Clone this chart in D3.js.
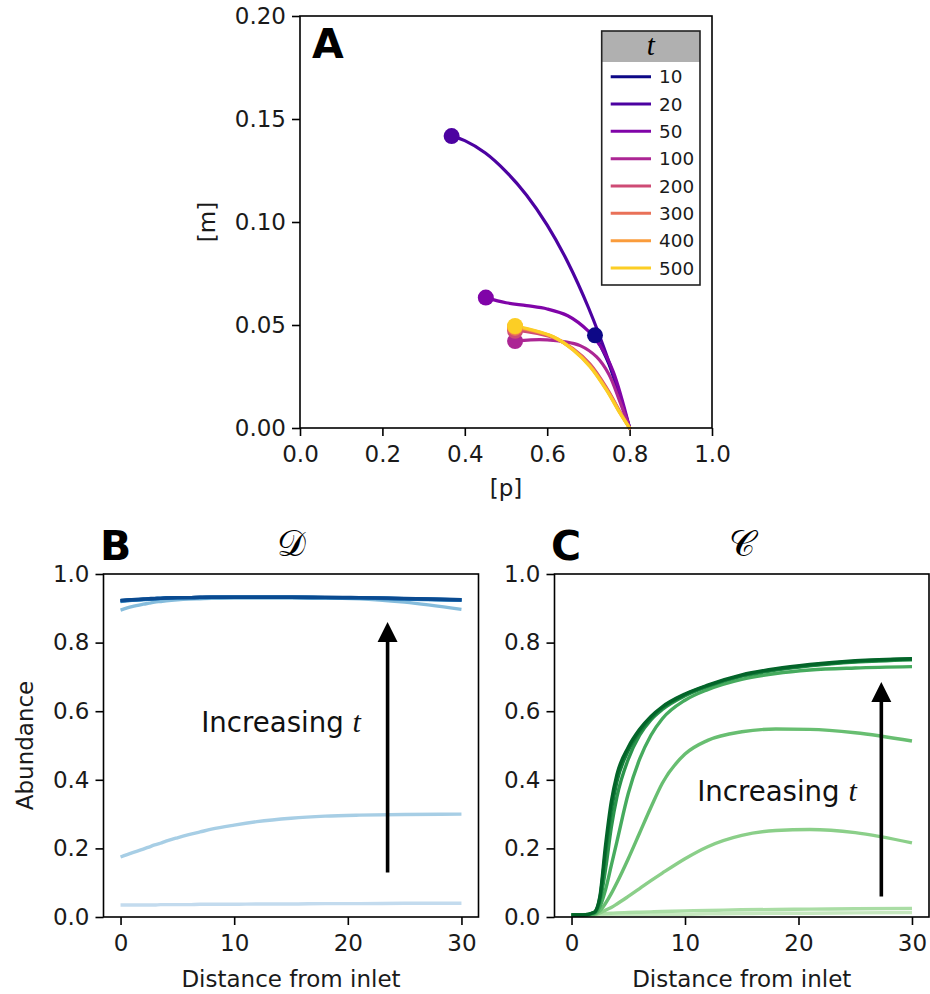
<!DOCTYPE html>
<html><head><meta charset="utf-8">
<script src="https://cdn.jsdelivr.net/npm/d3@7"></script>
<style>
html,body{margin:0;padding:0;background:#fff;}
svg{display:block;font-family:"DejaVu Sans",sans-serif;}
</style></head><body>
<svg id="fig" width="930" height="994"></svg>
<script>
// time points shown in every panel
const times = [10, 20, 50, 100, 200, 300, 400, 500];

// panel A: trajectories in the (p, m) plane, [p, m] pairs starting at p = 0.8
const trajA10  = [[0.8,0],[0.785,0.0095],[0.768,0.0205],[0.75,0.031],[0.733,0.0385],[0.716,0.045]];
const trajA20  = [[0.8,0],[0.75,0.032],[0.70,0.0585],[0.65,0.0805],[0.60,0.0985],[0.55,0.113],[0.50,0.1245],[0.45,0.1335],[0.40,0.1395],[0.368,0.1417]];
const trajA50  = [[0.8,0],[0.76,0.0275],[0.73,0.0395],[0.70,0.047],[0.65,0.0545],[0.60,0.0578],[0.55,0.0594],[0.50,0.0608],[0.451,0.0633]];
const trajA100 = [[0.8,0],[0.775,0.0135],[0.75,0.026],[0.72,0.0345],[0.68,0.040],[0.64,0.042],[0.60,0.0428],[0.56,0.0428],[0.522,0.0422]];
const trajA200 = [[0.8,0],[0.777,0.0078],[0.744,0.0195],[0.704,0.031],[0.663,0.0385],[0.615,0.0438],[0.558,0.0465],[0.522,0.0472]];
const trajA300 = [[0.8,0],[0.777,0.0075],[0.744,0.019],[0.704,0.0304],[0.663,0.0382],[0.615,0.0441],[0.558,0.0474],[0.522,0.0486]];
const trajA400 = [[0.8,0],[0.777,0.0073],[0.744,0.0186],[0.704,0.030],[0.663,0.038],[0.615,0.0442],[0.558,0.0477],[0.522,0.0492]];
const trajA500 = [[0.8,0],[0.777,0.0071],[0.744,0.0184],[0.704,0.0298],[0.663,0.0379],[0.615,0.0443],[0.558,0.0479],[0.522,0.0495]];
const trajA = [trajA10, trajA20, trajA50, trajA100, trajA200, trajA300, trajA400, trajA500];

// panels B and C: abundance along the channel
const distance = [0, 1, 2, 2.5, 3, 3.5, 4, 5, 6, 7, 8, 10, 12, 15, 18, 21, 25, 30];

const dT10  = [0.035,0.035,0.035,0.035,0.035,0.036,0.036,0.036,0.036,0.037,0.037,0.037,0.038,0.038,0.039,0.039,0.040,0.040];
const dT20  = [0.175,0.187,0.198,0.204,0.210,0.215,0.221,0.231,0.240,0.248,0.256,0.268,0.278,0.288,0.294,0.297,0.299,0.300];
const dT50  = [0.895,0.905,0.912,0.915,0.918,0.920,0.922,0.925,0.927,0.928,0.929,0.930,0.930,0.930,0.930,0.928,0.918,0.897];
const dT100 = [0.920,0.923,0.925,0.926,0.927,0.928,0.929,0.930,0.931,0.931,0.931,0.932,0.932,0.932,0.931,0.930,0.927,0.923];
const dT200 = [0.921,0.924,0.926,0.927,0.928,0.929,0.929,0.930,0.931,0.931,0.932,0.932,0.932,0.932,0.931,0.930,0.928,0.924];
const dT300 = [0.922,0.924,0.926,0.927,0.928,0.929,0.930,0.931,0.931,0.931,0.932,0.932,0.932,0.932,0.931,0.930,0.928,0.924];
const dT400 = [0.922,0.925,0.926,0.927,0.928,0.929,0.930,0.931,0.931,0.932,0.932,0.932,0.932,0.932,0.931,0.931,0.928,0.925];
const dT500 = [0.923,0.925,0.927,0.928,0.929,0.929,0.930,0.931,0.931,0.932,0.932,0.932,0.932,0.932,0.932,0.931,0.929,0.925];
const seriesD = [dT10, dT20, dT50, dT100, dT200, dT300, dT400, dT500];

const cT10  = [0.005,0.005,0.006,0.006,0.006,0.006,0.007,0.007,0.007,0.008,0.008,0.008,0.009,0.010,0.011,0.011,0.012,0.013];
const cT20  = [0.007,0.007,0.008,0.009,0.010,0.011,0.012,0.013,0.014,0.015,0.016,0.018,0.019,0.021,0.022,0.023,0.024,0.025];
const cT50  = [0.005,0.005,0.007,0.012,0.020,0.028,0.038,0.060,0.083,0.106,0.128,0.170,0.205,0.238,0.252,0.255,0.246,0.216];
const cT100 = [0.005,0.005,0.008,0.018,0.040,0.068,0.100,0.170,0.245,0.320,0.390,0.475,0.515,0.540,0.548,0.547,0.537,0.513];
const cT200 = [0.006,0.006,0.010,0.030,0.080,0.150,0.220,0.360,0.460,0.530,0.578,0.632,0.663,0.693,0.710,0.720,0.726,0.730];
const cT300 = [0.006,0.006,0.012,0.045,0.140,0.260,0.350,0.460,0.530,0.575,0.605,0.645,0.672,0.702,0.720,0.732,0.743,0.750];
const cT400 = [0.006,0.006,0.013,0.055,0.190,0.310,0.395,0.485,0.540,0.580,0.610,0.648,0.674,0.704,0.722,0.734,0.745,0.752];
const cT500 = [0.006,0.006,0.014,0.060,0.210,0.335,0.415,0.495,0.547,0.585,0.613,0.650,0.676,0.706,0.724,0.736,0.747,0.753];
const seriesC = [cT10, cT20, cT50, cT100, cT200, cT300, cT400, cT500];

// tick values
const ticksAx = [0, 0.2, 0.4, 0.6, 0.8, 1.0];
const ticksAy = [0, 0.05, 0.10, 0.15, 0.20];
const ticksDist = [0, 10, 20, 30];
const ticksAbund = [0, 0.2, 0.4, 0.6, 0.8, 1.0];

const svg = d3.select("#fig");
const TICK_FS = 23, LABEL_FS = 23, NOTE_FS = 27.6, LETTER_FS = 41;

const plasmaCol = times.map((t, i) => d3.interpolatePlasma(i * 0.9 / 7));
const bluesCol  = times.map((t, i) => d3.interpolateBlues(0.25 + i * 0.65 / 7));
const greensCol = times.map((t, i) => d3.interpolateGreens(0.25 + i * 0.65 / 7));

function styleAxis(g) {
  g.select(".domain").remove();
  g.selectAll(".tick line").attr("stroke", "#000").attr("stroke-width", 1.6);
  g.selectAll(".tick text").attr("fill", "#1a1a1a").style("font-size", TICK_FS + "px")
    .style("font-family", "DejaVu Sans");
}

function frame(x, y) {
  const [x0, x1] = x.range(), [y0, y1] = y.range();
  svg.append("rect").attr("x", x0).attr("y", y1).attr("width", x1 - x0).attr("height", y0 - y1)
    .attr("fill", "none").attr("stroke", "#000").attr("stroke-width", 1.6);
}

// ---------------- Panel A ----------------
const xA = d3.scaleLinear().domain([0, 1]).range([300, 712]);
const yA = d3.scaleLinear().domain([0, 0.2]).range([428, 16]);

svg.append("g").attr("transform", `translate(0,${yA(0)})`)
  .call(d3.axisBottom(xA).tickValues(ticksAx).tickFormat(d3.format(".1f")).tickSize(8).tickPadding(10).tickSizeOuter(0))
  .call(styleAxis);
svg.append("g").attr("transform", `translate(${xA(0)},0)`)
  .call(d3.axisLeft(yA).tickValues(ticksAy).tickFormat(d3.format(".2f")).tickSize(8).tickPadding(6).tickSizeOuter(0))
  .call(styleAxis);

const lineA = d3.line().x(d => xA(d[0])).y(d => yA(d[1])).curve(d3.curveCatmullRom.alpha(0.5));
const gA = svg.append("g");
trajA.forEach((tr, i) => {
  gA.append("path").attr("d", lineA(tr)).attr("fill", "none")
    .attr("stroke", plasmaCol[i]).attr("stroke-width", 3.2).attr("stroke-linecap", "round");
});
trajA.forEach((tr, i) => {
  const end = tr[tr.length - 1];
  gA.append("circle").attr("cx", xA(end[0])).attr("cy", yA(end[1])).attr("r", 8)
    .attr("fill", plasmaCol[i]);
});
frame(xA, yA);

svg.append("text").attr("x", 312).attr("y", 57.5).attr("font-weight", "bold")
  .style("font-size", LETTER_FS + "px").text("A");

svg.append("text").attr("x", (xA.range()[0] + xA.range()[1]) / 2).attr("y", 496)
  .attr("text-anchor", "middle").style("font-size", LABEL_FS + "px").attr("fill", "#1a1a1a").text("[p]");
svg.append("text").attr("transform", `translate(215,${(yA.range()[0] + yA.range()[1]) / 2}) rotate(-90)`)
  .attr("text-anchor", "middle").style("font-size", LABEL_FS + "px").attr("fill", "#1a1a1a").text("[m]");

// legend
const lg = svg.append("g");
const lgX = 601.7, lgY = 31, lgW = 98.3, lgH = 254, lgHead = 31;
lg.append("rect").attr("x", lgX).attr("y", lgY).attr("width", lgW).attr("height", lgH).attr("fill", "#fff");
lg.append("rect").attr("x", lgX).attr("y", lgY).attr("width", lgW).attr("height", lgHead).attr("fill", "#b0b0b0");
lg.append("text").attr("x", lgX + lgW / 2).attr("y", 55).attr("text-anchor", "middle")
  .style("font-family", "Liberation Serif").style("font-style", "italic").style("font-size", "29px").text("t");
times.forEach((t, i) => {
  const cy = 76.7 + i * 27.33;
  lg.append("line").attr("x1", 610.7).attr("x2", 651).attr("y1", cy).attr("y2", cy)
    .attr("stroke", plasmaCol[i]).attr("stroke-width", 3);
  lg.append("text").attr("x", 659).attr("y", cy + 6.6).style("font-size", "18.4px").attr("fill", "#1a1a1a").text(t);
});
lg.append("rect").attr("x", lgX).attr("y", lgY).attr("width", lgW).attr("height", lgH)
  .attr("fill", "none").attr("stroke", "#222").attr("stroke-width", 1.6);

// ---------------- Panels B and C ----------------
function profilePanel(opts) {
  const x = d3.scaleLinear().domain([-1.5, 31.5]).range(opts.xr);
  const y = d3.scaleLinear().domain([0, 1]).range([917, 574]);
  svg.append("g").attr("transform", `translate(0,${y(0)})`)
    .call(d3.axisBottom(x).tickValues(ticksDist).tickFormat(d3.format("d")).tickSize(8).tickPadding(10).tickSizeOuter(0))
    .call(styleAxis);
  svg.append("g").attr("transform", `translate(${x.range()[0]},0)`)
    .call(d3.axisLeft(y).tickValues(ticksAbund).tickFormat(d3.format(".1f")).tickSize(8).tickPadding(6).tickSizeOuter(0))
    .call(styleAxis);

  const line = d3.line().x((d, j) => x(distance[j])).y(d => y(d)).curve(d3.curveMonotoneX);
  opts.series.forEach((s, i) => {
    svg.append("path").attr("d", line(s)).attr("fill", "none")
      .attr("stroke", opts.colors[i]).attr("stroke-width", 3.4);
  });

  // arrow pointing towards later times
  const ax = x(opts.arrow[0]), ay0 = y(opts.arrow[1]), ay1 = y(opts.arrow[2]);
  svg.append("line").attr("x1", ax).attr("x2", ax).attr("y1", ay0).attr("y2", ay1 + 18)
    .attr("stroke", "#000").attr("stroke-width", 3.6);
  svg.append("path").attr("d", `M${ax},${ay1} L${ax - 10},${ay1 + 20} L${ax + 10},${ay1 + 20} Z`).attr("fill", "#000");

  const note = svg.append("text").attr("x", x(opts.note[0])).attr("y", y(opts.note[1]))
    .style("font-size", NOTE_FS + "px").attr("fill", "#111");
  note.append("tspan").text("Increasing ");
  note.append("tspan").style("font-family", "Liberation Serif").style("font-style", "italic")
    .style("font-size", "30px").text("t");

  frame(x, y);

  const cx = (x.range()[0] + x.range()[1]) / 2;
  svg.append("text").attr("x", cx).attr("y", 987).attr("text-anchor", "middle")
    .style("font-size", LABEL_FS + "px").attr("fill", "#1a1a1a").text("Distance from inlet");
  svg.append("text").attr("x", opts.letterX).attr("y", 560).attr("font-weight", "bold")
    .style("font-size", LETTER_FS + "px").text(opts.letter);
  svg.append("text").attr("x", cx).attr("y", 556).attr("text-anchor", "middle")
    .style("font-family", "DejaVu Serif, DejaVu Sans, serif").style("font-size", "36px").text(opts.title);
  return { x, y };
}

profilePanel({ xr: [103.5, 478.5], series: seriesD, colors: bluesCol, arrow: [23.5, 0.13, 0.86],
  note: [7.1, 0.54], letter: "B", letterX: 100, title: "𝒟" });
profilePanel({ xr: [554.5, 929], series: seriesC, colors: greensCol, arrow: [27.3, 0.06, 0.685],
  note: [11.07, 0.337], letter: "C", letterX: 551, title: "𝒞" });

svg.append("text").attr("transform", `translate(33,745.5) rotate(-90)`)
  .attr("text-anchor", "middle").style("font-size", LABEL_FS + "px").attr("fill", "#1a1a1a").text("Abundance");
</script>
</body></html>
